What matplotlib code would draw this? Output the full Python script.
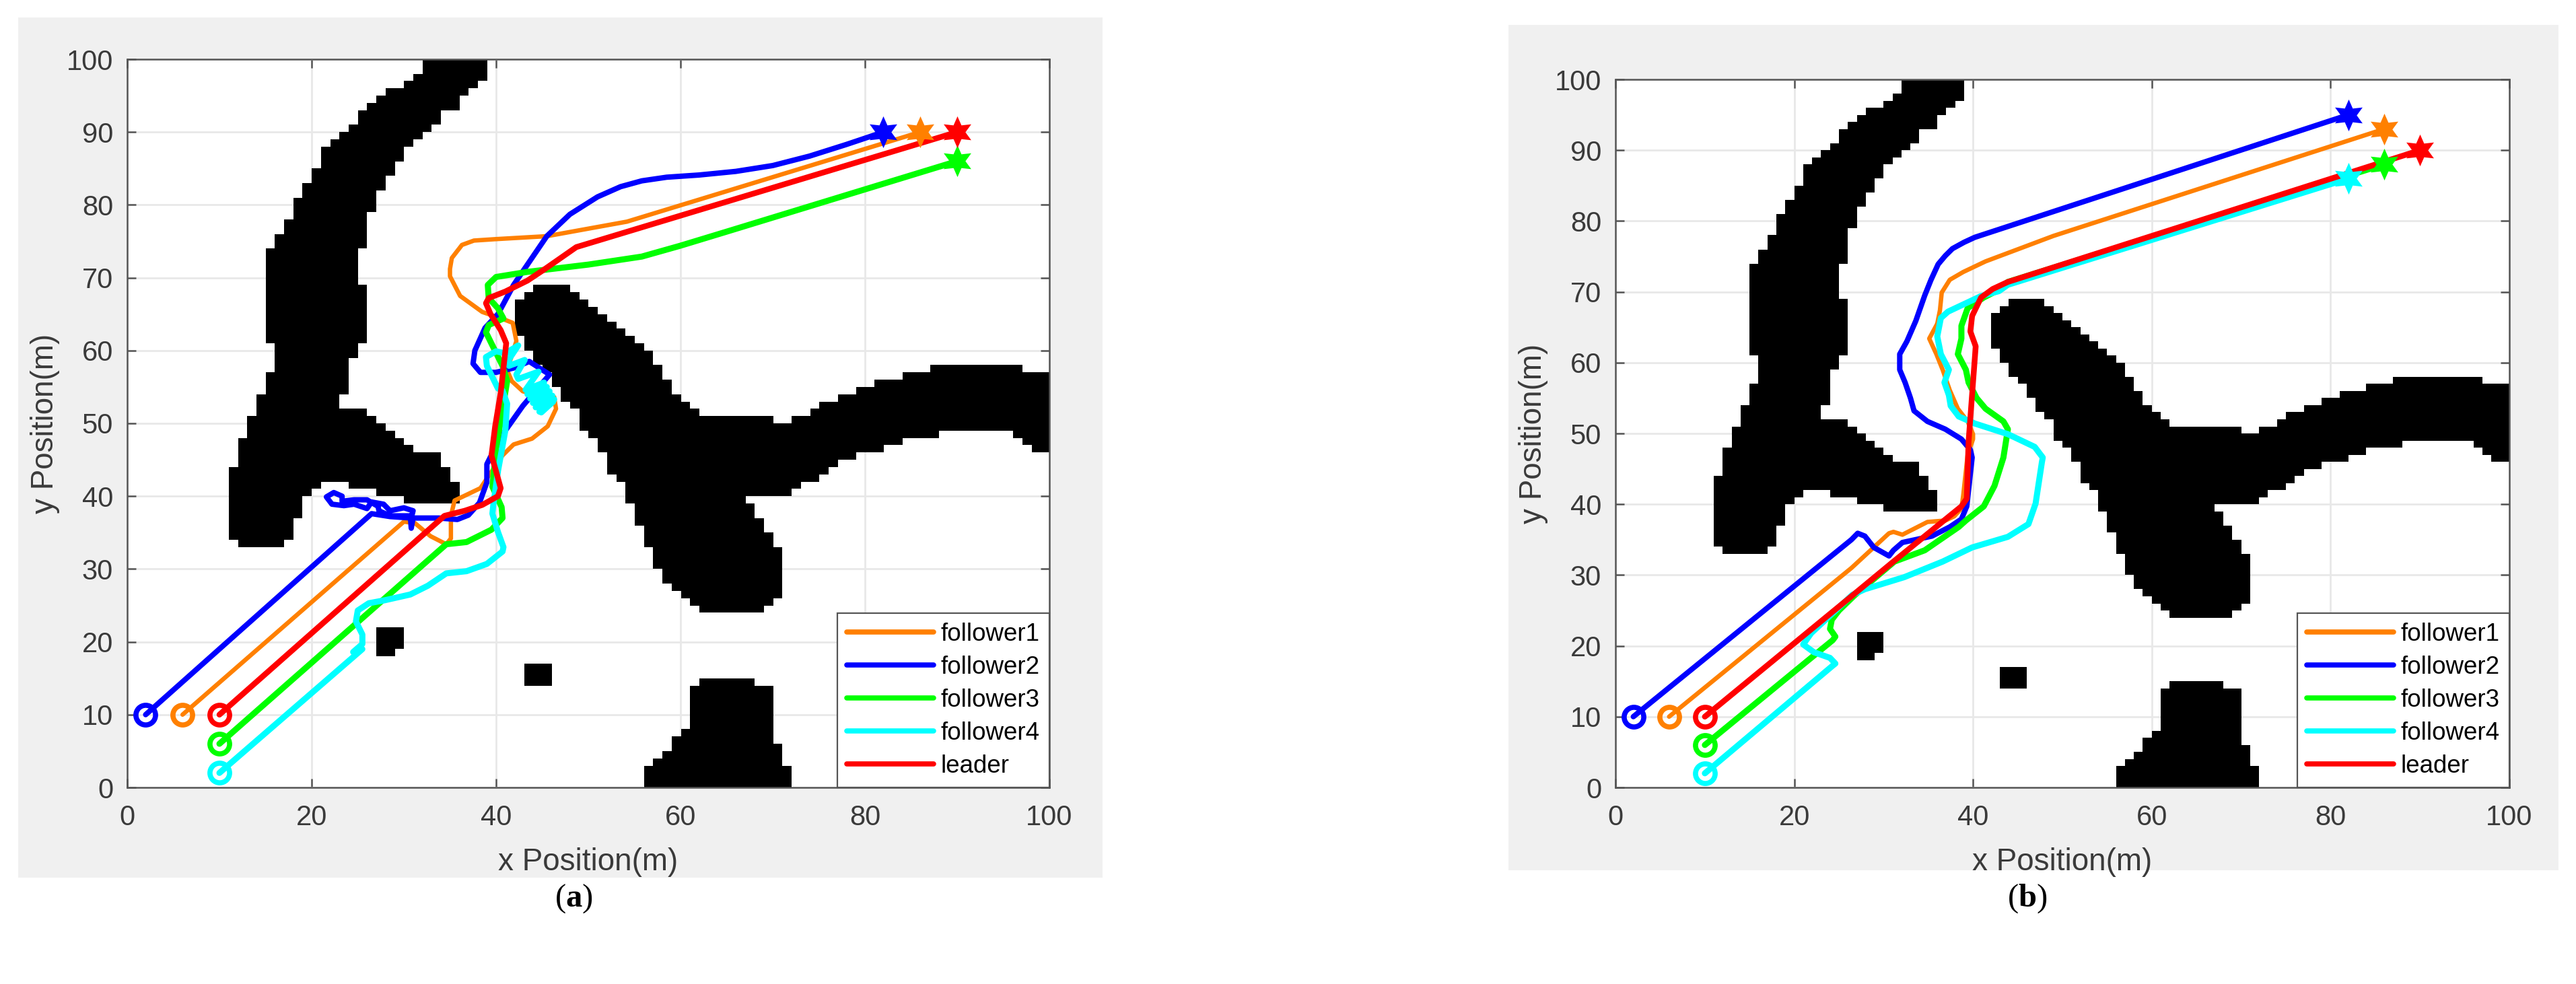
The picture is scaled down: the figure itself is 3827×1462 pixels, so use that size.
"""Two panels of formation trajectories on an occupancy map."""

import matplotlib
matplotlib.use("Agg")
import matplotlib.pyplot as plt
from matplotlib.colors import ListedColormap
from matplotlib.patches import Rectangle
import numpy as np

FIG_W, FIG_H = 3827, 1462

# obstacle cells: (row_low, row_high, x_start, x_end), rows inclusive
LEFT_BLOB = [
    (98, 99, 32, 39), (97, 97, 31, 39), (96, 96, 30, 38), (95, 95, 28, 37),
    (94, 94, 27, 36), (93, 93, 26, 36), (91, 92, 25, 34), (90, 90, 24, 33),
    (89, 89, 23, 32), (88, 88, 22, 31), (86, 87, 21, 30), (85, 85, 21, 29),
    (84, 84, 20, 29), (83, 83, 20, 28), (82, 82, 19, 28), (81, 81, 19, 27),
    (79, 80, 18, 27), (78, 78, 18, 26), (76, 77, 17, 26), (74, 75, 16, 26),
    (69, 73, 15, 25), (61, 68, 15, 26), (59, 60, 16, 25), (57, 58, 16, 24),
    (54, 56, 15, 24), (52, 53, 14, 23), (51, 51, 14, 26), (50, 50, 13, 27),
    (49, 49, 13, 28), (48, 48, 13, 29), (47, 47, 12, 30), (46, 46, 12, 31),
    (44, 45, 12, 34), (42, 43, 11, 35), (41, 41, 11, 21), (41, 41, 24, 36),
    (40, 40, 11, 20), (40, 40, 27, 36), (39, 39, 11, 19), (39, 39, 30, 36),
    (37, 38, 11, 19), (34, 36, 11, 18), (33, 33, 12, 17),
]
CENTRE_BLOB = [
    (68, 68, 44, 48), (67, 67, 43, 49), (66, 66, 42, 50), (65, 65, 42, 51),
    (64, 64, 42, 52), (63, 63, 42, 53), (62, 62, 42, 54), (61, 61, 43, 55),
    (60, 60, 43, 56), (58, 59, 44, 57), (57, 57, 45, 58), (56, 56, 46, 58),
    (55, 55, 46, 59), (54, 54, 47, 59), (53, 53, 47, 60), (52, 52, 48, 61),
    (51, 51, 49, 62), (50, 50, 49, 70), (49, 49, 49, 88), (48, 48, 50, 88),
    (47, 47, 51, 84), (46, 46, 51, 82), (45, 45, 52, 79), (44, 44, 52, 77),
    (43, 43, 52, 76), (42, 42, 53, 75), (41, 41, 54, 73), (40, 40, 54, 72),
    (39, 39, 54, 67), (37, 38, 55, 68), (36, 36, 55, 69), (35, 35, 56, 69),
    (33, 34, 56, 70), (30, 32, 57, 71), (28, 29, 58, 71), (27, 27, 59, 71),
    (26, 26, 60, 71), (25, 25, 61, 70), (24, 24, 62, 69),
]
RIGHT_ARM = [
    (57, 57, 87, 97), (56, 56, 84, 100), (55, 55, 81, 100), (54, 54, 79, 100),
    (53, 53, 77, 100), (52, 52, 75, 100), (51, 51, 74, 100), (50, 50, 72, 100),
    (49, 49, 88, 100), (48, 48, 96, 100), (47, 47, 97, 100), (46, 46, 98, 100),
]
BOTTOM_BLOB = [
    (14, 14, 62, 68), (8, 13, 61, 70), (7, 7, 60, 70), (6, 6, 59, 70),
    (5, 5, 59, 71), (4, 4, 58, 71), (3, 3, 57, 71), (0, 2, 56, 72),
]
SMALL_BLOCKS = [(19, 21, 27, 30), (18, 18, 27, 29), (14, 16, 43, 46)]

LABELS = ["follower1", "follower2", "follower3", "follower4", "leader"]
COLORS = ["#FF8000", "#0000FF", "#00FF00", "#00FFFF", "#FF0000"]
WIDTHS = [6.5, 8.0, 9.0, 9.0, 8.5]

# panel (a) paths
A_FOLLOWER1 = [
    (6, 10), (30, 36.5), (31.2, 36.3), (32.9, 34.5), (34.6, 33.4), (35.1, 34.2),
    (35.1, 37.3), (35.5, 39.4), (38.3, 41.1), (40.7, 45.6), (41.9, 47.1),
    (43.9, 47.9), (45.6, 49.6), (46.5, 52), (46.3, 53.6), (42.9, 54.4),
    (41.7, 55.8), (41.2, 57.3), (42.2, 61.3), (41.8, 63.8), (41, 64.2),
    (38.5, 65.3), (36.1, 67.5), (35, 70.2), (35, 71.2), (35.2, 72.7), (36.3, 74.5),
    (37.6, 75.1), (40, 75.3), (45.5, 75.7), (54.2, 77.7), (86, 90),
]
A_FOLLOWER2 = [
    (2, 10), (26.5, 37.6), (28.5, 37.2), (30.8, 37), (31, 38), (30, 38.4),
    (28.5, 38), (27.8, 38.9), (26.5, 39.2), (26, 38.3), (24.6, 38.9),
    (23.5, 38.7), (22.2, 38.9), (21.6, 39.9), (22.4, 40.5), (23.3, 40),
    (23.3, 39.3), (24.6, 39.5), (26, 39.5), (27.2, 38.6), (27.3, 38),
    (28.5, 37.3), (30.7, 37.3), (30.8, 35.6), (31, 37), (33.8, 37), (35.8, 36.8),
    (37, 37.4), (38.2, 39.1), (39, 41.9), (39, 44.4), (39.6, 45.9), (41, 49),
    (42.9, 52.4), (45.8, 56.7), (43.6, 58.5), (41.9, 57.6), (40, 57), (38.3, 57),
    (37.5, 58.2), (37.7, 60), (38.8, 63.1), (40.2, 65), (41.9, 69), (42.7, 70.5),
    (45.5, 75.7), (48, 78.7), (51, 81.1), (53.5, 82.5), (55.8, 83.3), (58.5, 83.8),
    (62, 84.1), (66, 84.6), (70, 85.4), (74, 86.7), (78, 88.3), (82, 90),
]
A_FOLLOWER3 = [
    (10, 6), (34.6, 33.4), (36.8, 33.7), (39.5, 35.4), (40.7, 37), (40.6, 38.5),
    (39.6, 41.3), (40, 46.5), (41.2, 55.8), (40.7, 57.9), (39.6, 60.7),
    (38.9, 62.5), (39.2, 63.5), (40.8, 64.4), (40.2, 65.8), (39.2, 67.2),
    (39.1, 69), (40, 70.1), (43.4, 70.8), (50, 71.8), (55.8, 72.9), (60, 74.4),
    (65.2, 76.4), (90, 86),
]
A_FOLLOWER4 = [
    (10, 2), (25.5, 19), (24.5, 18.6), (25.5, 19.7), (25.5, 21), (24.8, 22.8),
    (25, 24.3), (26.2, 25.3), (27.9, 25.7), (30.7, 26.5), (32.6, 27.7),
    (34.6, 29.4), (36.8, 29.7), (39, 30.7), (40.7, 32.4), (40.8, 33), (40.2, 35.1),
    (39.6, 37.6), (39.7, 38.8), (40.2, 43.4), (41, 49), (41.2, 52.7), (40.7, 54.5),
    (40.2, 54.8), (39, 57.9), (38.9, 59.1), (40, 59.9), (41, 59.6), (42.4, 60.7),
    (41.4, 58.8), (41.4, 57.9), (43.1, 58.7), (42.2, 56.7), (42.4, 56.1),
    (44.6, 57.1), (43.2, 54.6), (45.2, 55.6), (43.4, 54), (45.5, 55), (43.7, 53.4),
    (45.8, 54.4), (44, 52.8), (46.1, 53.8), (44.3, 52.2), (46.3, 53.3), (44.7, 51.6),
    (46.2, 53), (44.9, 51.5),
]
A_LEADER = [
    (10, 10), (34.4, 37.3), (36.6, 38), (38.5, 38.8), (40.2, 40), (40.5, 41.1),
    (40, 43.4), (39.5, 45.6), (39.9, 49.6), (40.5, 54.2), (41.1, 61), (40.5, 62.8),
    (39.4, 65), (38.9, 66.5), (39.2, 67.2), (41, 68.1), (43.4, 69.6), (45.3, 71.2),
    (48.7, 74.2), (90, 90),
]
A_ENDS = [(86, 90), (82, 90), (90, 86), None, (90, 90)]

# panel (b) paths
B_FOLLOWER1 = [
    (6, 10), (26.4, 31), (30.6, 35.9), (31.1, 36.1), (32.1, 35.7), (34.9, 37.5),
    (36.9, 37.7), (37.9, 38.3), (38.7, 39.4), (38.9, 41.2), (39.4, 47), (40, 49.2),
    (40, 49.9), (39.4, 51.7), (38.3, 53.5), (37.4, 56.1), (36.6, 59), (35.9, 61.2),
    (35.1, 63.4), (36, 65.5), (36.3, 67.4), (36.5, 69.9), (37.4, 71.7),
    (38.9, 72.8), (41.4, 74.3), (49, 77.9), (86, 93),
]
B_FOLLOWER2 = [
    (2, 10), (26.4, 35), (27.1, 35.9), (27.9, 35.5), (28.9, 33.9), (30.6, 32.7),
    (31.1, 33.5), (32.1, 34.6), (35.4, 35.5), (37.4, 36.8), (38.7, 37.9),
    (39.3, 39.7), (39.9, 46.6), (39.7, 47.7), (38.7, 49.2), (36.9, 50.6),
    (34.9, 51.7), (33.4, 53.2), (33, 55), (32.4, 57.2), (31.8, 59), (31.8, 61.2),
    (32.6, 63), (33.6, 65.9), (34.6, 69.5), (35.3, 71.7), (36.1, 73.9), (36.9, 75.1),
    (37.7, 76.1), (39, 77), (40.2, 77.7), (82, 95),
]
B_FOLLOWER3 = [
    (10, 6), (24.3, 20.8), (24.6, 21.3), (24, 22.4), (24.2, 23.7), (25, 25),
    (26.8, 27.2), (31.2, 31.9), (34.6, 33.5), (38.4, 36.8), (39.2, 37.7),
    (41.2, 39.7), (42.4, 42.6), (43.4, 46.6), (43.9, 50.6), (43.4, 51.7),
    (41.4, 53.5), (40.4, 55), (39.5, 57.2), (39.2, 59), (38.3, 61.2), (38.7, 63.4),
    (38.7, 65.2), (39.4, 67.7), (41.2, 69.2), (42.9, 70.3), (43.9, 71.4), (86, 88),
]
B_FOLLOWER4 = [
    (10, 2), (24.3, 17.2), (24.6, 17.5), (24, 18.3), (22.2, 19.1), (21, 20.2),
    (21.9, 21.8), (26.5, 27.2), (27.9, 28), (32.3, 29.7), (36.6, 31.9), (39.9, 33.9),
    (43.9, 35.4), (46.2, 37.2), (47, 40.1), (47.7, 45.9), (47.8, 46.6), (46.9, 48.1),
    (43.9, 49.9), (40.2, 51.4), (38.4, 52.4), (37.5, 53.9), (37.3, 55.4),
    (36.8, 57.2), (37.3, 59), (36.4, 61.2), (36, 63.7), (36.4, 66.3), (37.2, 67.2),
    (40.9, 69.4), (42.9, 70.1), (43.9, 71), (82, 86),
]
B_LEADER = [
    (10, 10), (26.4, 27), (30.9, 31.7), (38.7, 39.7), (39.3, 40.8), (39.5, 48.8),
    (40.3, 62.3), (39.7, 64.4), (39.9, 66.6), (40.9, 69.2), (42.2, 70.4),
    (43.9, 71.4), (90, 90),
]
B_ENDS = [(86, 93), (82, 95), (86, 88), (82, 86), (90, 90)]

X_TICKS = [0, 20, 40, 60, 80, 100]
Y_TICKS = [0, 10, 20, 30, 40, 50, 60, 70, 80, 90, 100]


def px_rect(left, top, right, bottom):
    return [left / FIG_W, 1 - bottom / FIG_H, (right - left) / FIG_W, (bottom - top) / FIG_H]


def obstacle_mask():
    mask = np.zeros((100, 100))
    for runs in (LEFT_BLOB, CENTRE_BLOB, RIGHT_ARM, BOTTOM_BLOB, SMALL_BLOCKS):
        for low, high, start, end in runs:
            mask[low:high + 1, start:end] = 1
    return np.ma.masked_where(mask == 0, mask)


def draw_panel(fig, rect, paths, ends):
    ax = fig.add_axes(rect)
    ax.imshow(
        obstacle_mask(),
        origin="lower",
        extent=(0, 100, 0, 100),
        cmap=ListedColormap(["black"]),
        interpolation="nearest",
        aspect="auto",
        zorder=1,
    )
    for path, label, color, width in zip(paths, LABELS, COLORS, WIDTHS):
        xs = [p[0] for p in path]
        ys = [p[1] for p in path]
        ax.plot(xs, ys, color=color, lw=width * 0.72, label=label, zorder=3,
                solid_joinstyle="round", solid_capstyle="round")
        ax.plot(xs[0], ys[0], "o", mfc="none", mec=color, ms=21, mew=5.5, zorder=3)
    for end, color in zip(ends, COLORS):
        if end is not None:
            ax.plot(end[0], end[1], marker=(6, 1, 0), color=color, ms=34, mew=0, zorder=4)

    ax.set_xlim(0, 100)
    ax.set_ylim(0, 100)
    ax.set_xticks(X_TICKS)
    ax.set_yticks(Y_TICKS)
    ax.grid(True, color="#E8E8E8", lw=2.0)
    ax.set_axisbelow(True)
    ax.tick_params(direction="in", top=True, right=True, length=9.5, width=1.8,
                   color="#555555", labelcolor="#3A3A3A", labelsize=30, pad=15)
    ax.tick_params(axis="x", pad=18)
    for spine in ax.spines.values():
        spine.set_color("#555555")
        spine.set_linewidth(1.8)
    ax.set_xlabel("x Position(m)", fontsize=33, color="#3A3A3A", labelpad=17)
    ax.set_ylabel("y Position(m)", fontsize=33, color="#3A3A3A", labelpad=7)
    legend = ax.legend(
        loc="lower right",
        bbox_to_anchor=(1.0, 0.0),
        fontsize=26.5,
        handlelength=3.5,
        handletextpad=0.3,
        labelspacing=0.38,
        borderpad=0.38,
        borderaxespad=0,
        fancybox=False,
        framealpha=1,
        edgecolor="#555555",
    )
    legend.get_frame().set_linewidth(1.6)
    for line in legend.get_lines():
        line.set_solid_capstyle("round")
        line.set_linewidth(5.5)
    legend.set_zorder(5)
    return ax


def main():
    plt.rcParams.update(
        {
            "font.family": ["Liberation Sans", "DejaVu Sans"],
            "mathtext.fontset": "custom",
            "mathtext.rm": "Liberation Serif",
            "mathtext.bf": "Liberation Serif:bold",
        }
    )
    fig = plt.figure(figsize=(FIG_W / 100, FIG_H / 100), dpi=100, facecolor="white")

    for left, top, right, bottom in [(27, 26, 1638, 1304), (2241, 37, 3801, 1293)]:
        x, y, w, h = px_rect(left, top, right, bottom)
        fig.add_artist(Rectangle((x, y), w, h, transform=fig.transFigure, color="#F0F0F0", lw=0, zorder=-1))

    draw_panel(
        fig, px_rect(189, 88, 1559, 1170),
        [A_FOLLOWER1, A_FOLLOWER2, A_FOLLOWER3, A_FOLLOWER4, A_LEADER], A_ENDS,
    )
    draw_panel(
        fig, px_rect(2400, 118, 3728, 1170),
        [B_FOLLOWER1, B_FOLLOWER2, B_FOLLOWER3, B_FOLLOWER4, B_LEADER], B_ENDS,
    )

    for letter, x_px in [("a", 852), ("b", 3012)]:
        fig.text(x_px / FIG_W, 1 - 1335 / FIG_H, rf"($\mathbf{{{letter}}}$)",
                 family="Liberation Serif", fontsize=35, color="black",
                 ha="center", va="center")

    fig.savefig("out.png", dpi=100)


if __name__ == "__main__":
    main()
